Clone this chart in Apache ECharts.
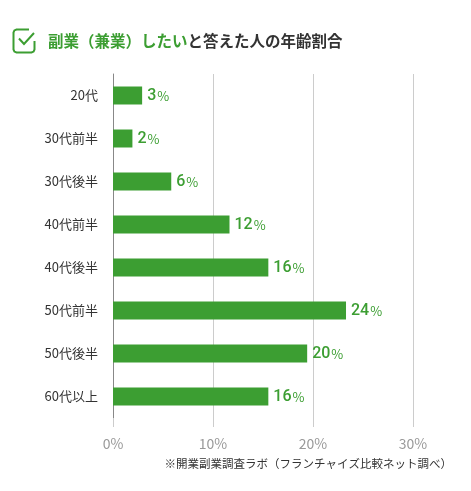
<!DOCTYPE html>
<html>
<head>
<meta charset="utf-8">
<script src="https://cdn.jsdelivr.net/npm/echarts@6/dist/echarts.min.js"></script>
<style>
html,body{margin:0;padding:0;background:#fff;}
#chart{width:471px;height:491px;}
</style>
</head>
<body>
<div id="chart"></div>
<script>
var categories = ['20代', '30代前半', '30代後半', '40代前半', '40代後半', '50代前半', '50代後半', '60代以上'];
var values = [3, 2, 6, 12, 16, 24, 20, 16];
var tickValues = [0, 10, 20, 30];
var titleGreen = '副業（兼業）したい';
var titleDark = 'と答えた人の年齢割合';
var sourceNote = '※開業副業調査ラボ（フランチャイズ比較ネット調べ）';

var GREEN = '#3c9e32';
var FONT = '"Noto Sans CJK JP", "Noto Sans", sans-serif';
var NUMFONT = 'Roboto, "Liberation Sans", sans-serif';

var chart = echarts.init(document.getElementById('chart'), null, {renderer: 'canvas'});
chart.setOption({
  backgroundColor: '#fff',
  animation: false,
  textStyle: {fontFamily: FONT},
  title: {
    text: '{g|' + titleGreen + '}{d|' + titleDark + '}',
    left: 43, top: 28,
    textStyle: {
      rich: {
        g: {color: GREEN, fontSize: 15.5, fontWeight: 'bold', fontFamily: FONT},
        d: {color: '#333', fontSize: 15.5, fontWeight: 'bold', fontFamily: FONT}
      }
    }
  },
  graphic: [
    {type: 'polyline', shape: {points: [[29, 29.5], [16.5, 29.5], [14.4, 30.4], [13.5, 32.5], [13.5, 49.5], [14.4, 51.6], [16.5, 52.5], [31.5, 52.5], [33.6, 51.6], [34.5, 49.5], [34.5, 41]]},
     style: {fill: null, stroke: GREEN, lineWidth: 2}},
    {type: 'polyline', shape: {points: [[19, 38.5], [24, 44], [34, 33]]},
     style: {fill: null, stroke: GREEN, lineWidth: 2}},
    {type: 'text', right: 19, top: 458,
     style: {text: sourceNote, fill: '#333', fontSize: 11.5, fontFamily: FONT}}
  ],
  grid: {left: 113, right: 58, top: 74, height: 344, containLabel: false},
  xAxis: [
    {
      type: 'value', min: 0, max: 30, interval: 10,
      axisLine: {show: false},
      axisTick: {show: true, length: 9, lineStyle: {color: '#cccccc'}},
      splitLine: {show: true, lineStyle: {color: '#cccccc', width: 1}},
      axisLabel: {
        color: '#999', fontSize: 14, margin: 19, fontFamily: FONT,
        formatter: function (v) { return tickValues.indexOf(v) >= 0 ? v + '%' : ''; }
      }
    },
    {
      type: 'value', min: 0, max: 30.9, show: false
    }
  ],
  yAxis: {
    type: 'category', data: categories, inverse: true,
    axisLine: {show: true, lineStyle: {color: '#888', width: 1}},
    axisTick: {show: false},
    axisLabel: {color: '#333', fontSize: 13, margin: 15, fontFamily: FONT}
  },
  series: [{
    type: 'bar', xAxisIndex: 1, data: values, barWidth: 18,
    itemStyle: {color: GREEN},
    label: {
      show: true, position: 'right', distance: 5,
      formatter: function (p) { return '{n|' + p.value + '}{p|%}'; },
      rich: {
        n: {color: GREEN, fontSize: 16, fontWeight: 500, fontFamily: NUMFONT},
        p: {color: GREEN, fontSize: 13, fontWeight: 'normal', fontFamily: FONT, padding: [2, 0, 0, 1]}
      }
    }
  }]
});
</script>
</body>
</html>
